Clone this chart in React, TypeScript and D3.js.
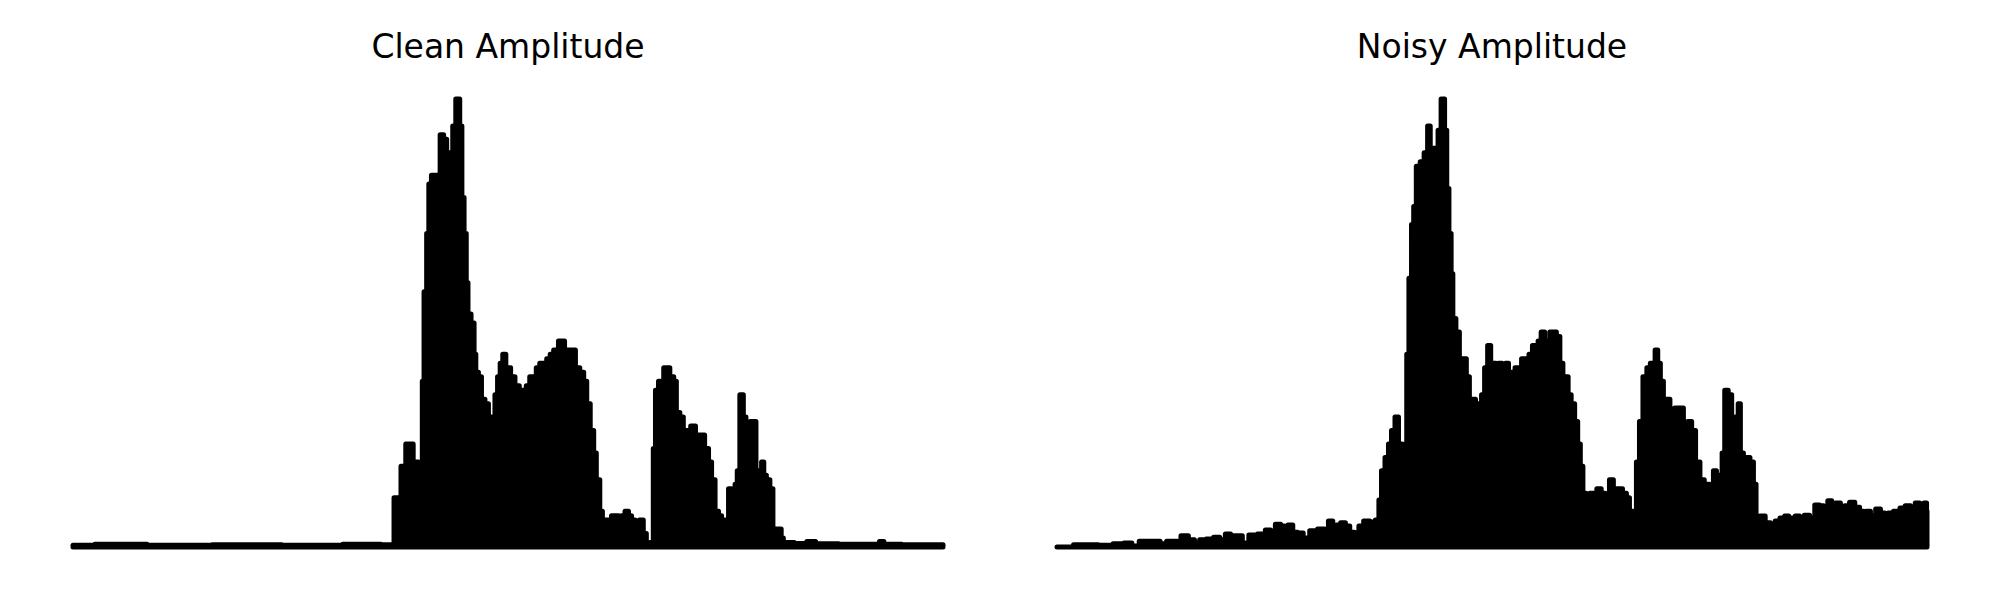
import React from "react";
import * as d3 from "d3";

const titles = ["Clean Amplitude", "Noisy Amplitude"];

const cleanT = [0, 0.05, 0.12, 0.2, 0.28, 0.34, 0.368, 0.37, 0.376, 0.378, 0.387, 0.395, 0.399, 0.401, 0.402, 0.405, 0.408, 0.41, 0.414, 0.42, 0.424, 0.428, 0.431, 0.436, 0.437, 0.443, 0.446, 0.448, 0.451, 0.453, 0.455, 0.46, 0.462, 0.464, 0.468, 0.471, 0.476, 0.479, 0.483, 0.487, 0.489, 0.493, 0.495, 0.5, 0.506, 0.51, 0.516, 0.52, 0.522, 0.528, 0.531, 0.534, 0.539, 0.543, 0.546, 0.551, 0.554, 0.562, 0.568, 0.575, 0.58, 0.585, 0.589, 0.592, 0.597, 0.6, 0.603, 0.608, 0.609, 0.614, 0.617, 0.621, 0.625, 0.629, 0.632, 0.637, 0.64, 0.644, 0.648, 0.654, 0.657, 0.661, 0.666, 0.668, 0.671, 0.675, 0.683, 0.689, 0.692, 0.695, 0.7, 0.703, 0.707, 0.713, 0.718, 0.723, 0.729, 0.732, 0.736, 0.74, 0.744, 0.747, 0.752, 0.755, 0.759, 0.763, 0.764, 0.769, 0.772, 0.775, 0.777, 0.78, 0.784, 0.786, 0.79, 0.793, 0.795, 0.799, 0.803, 0.806, 0.81, 0.813, 0.815, 0.818, 0.84, 0.847, 0.86, 0.9, 0.925, 0.929, 0.935, 0.97, 1];
const cleanA = [0.004, 0.006, 0.004, 0.005, 0.004, 0.006, 0.005, 0.11, 0.11, 0.18, 0.23, 0.19, 0.15, 0.19, 0.37, 0.57, 0.7, 0.81, 0.83, 0.83, 0.92, 0.91, 0.88, 0.88, 0.94, 1.0, 0.94, 0.78, 0.7, 0.59, 0.52, 0.5, 0.43, 0.39, 0.38, 0.33, 0.32, 0.29, 0.29, 0.34, 0.38, 0.41, 0.43, 0.4, 0.38, 0.36, 0.35, 0.34, 0.36, 0.38, 0.37, 0.4, 0.41, 0.41, 0.42, 0.43, 0.44, 0.46, 0.44, 0.44, 0.4, 0.39, 0.37, 0.32, 0.26, 0.21, 0.15, 0.08, 0.04, 0.06, 0.05, 0.07, 0.07, 0.05, 0.07, 0.08, 0.07, 0.06, 0.05, 0.06, 0.03, 0.005, 0.01, 0.22, 0.35, 0.37, 0.4, 0.38, 0.37, 0.3, 0.29, 0.25, 0.26, 0.27, 0.25, 0.25, 0.22, 0.19, 0.15, 0.08, 0.07, 0.06, 0.05, 0.13, 0.09, 0.14, 0.17, 0.34, 0.29, 0.25, 0.27, 0.28, 0.28, 0.17, 0.15, 0.19, 0.16, 0.15, 0.13, 0.04, 0.04, 0.04, 0.02, 0.01, 0.008, 0.012, 0.007, 0.006, 0.006, 0.012, 0.006, 0.005, 0.005];

const noisyT = [0, 0.038, 0.057, 0.072, 0.082, 0.09, 0.099, 0.115, 0.122, 0.13, 0.138, 0.147, 0.155, 0.161, 0.167, 0.176, 0.184, 0.19, 0.197, 0.202, 0.21, 0.216, 0.225, 0.236, 0.243, 0.248, 0.254, 0.26, 0.263, 0.268, 0.274, 0.279, 0.287, 0.294, 0.305, 0.31, 0.314, 0.32, 0.323, 0.329, 0.334, 0.339, 0.345, 0.349, 0.356, 0.363, 0.369, 0.371, 0.375, 0.379, 0.383, 0.386, 0.391, 0.394, 0.399, 0.401, 0.403, 0.406, 0.409, 0.411, 0.415, 0.42, 0.424, 0.428, 0.43, 0.432, 0.437, 0.439, 0.444, 0.447, 0.449, 0.452, 0.454, 0.456, 0.461, 0.464, 0.469, 0.472, 0.476, 0.479, 0.483, 0.486, 0.49, 0.493, 0.497, 0.5, 0.503, 0.506, 0.509, 0.514, 0.517, 0.521, 0.524, 0.529, 0.532, 0.536, 0.54, 0.545, 0.548, 0.552, 0.554, 0.559, 0.562, 0.564, 0.569, 0.572, 0.576, 0.58, 0.583, 0.586, 0.589, 0.593, 0.597, 0.6, 0.603, 0.606, 0.61, 0.615, 0.618, 0.623, 0.628, 0.632, 0.638, 0.641, 0.647, 0.653, 0.656, 0.66, 0.664, 0.668, 0.671, 0.676, 0.68, 0.684, 0.686, 0.689, 0.692, 0.695, 0.699, 0.702, 0.707, 0.713, 0.718, 0.722, 0.728, 0.731, 0.737, 0.741, 0.747, 0.753, 0.756, 0.76, 0.763, 0.766, 0.769, 0.774, 0.777, 0.782, 0.784, 0.787, 0.791, 0.794, 0.799, 0.802, 0.805, 0.811, 0.817, 0.823, 0.828, 0.834, 0.839, 0.843, 0.846, 0.851, 0.856, 0.862, 0.868, 0.874, 0.879, 0.883, 0.889, 0.892, 0.898, 0.903, 0.908, 0.914, 0.92, 0.925, 0.929, 0.932, 0.938, 0.944, 0.949, 0.954, 0.957, 0.966, 0.972, 0.978, 0.984, 0.989, 0.994, 0.999, 1.0];
const noisyA = [0.0, 0.005, 0.004, 0.007, 0.009, 0.002, 0.013, 0.013, 0.007, 0.013, 0.013, 0.025, 0.016, 0.009, 0.016, 0.018, 0.022, 0.016, 0.029, 0.025, 0.025, 0.009, 0.027, 0.029, 0.038, 0.031, 0.051, 0.047, 0.027, 0.049, 0.033, 0.031, 0.02, 0.036, 0.04, 0.031, 0.058, 0.036, 0.049, 0.054, 0.047, 0.033, 0.031, 0.047, 0.058, 0.056, 0.06, 0.105, 0.17, 0.2, 0.23, 0.26, 0.29, 0.23, 0.22, 0.23, 0.43, 0.6, 0.72, 0.76, 0.85, 0.86, 0.88, 0.94, 0.88, 0.89, 0.88, 0.93, 1.0, 0.93, 0.8, 0.7, 0.61, 0.51, 0.48, 0.42, 0.42, 0.38, 0.33, 0.33, 0.28, 0.32, 0.34, 0.4, 0.45, 0.41, 0.41, 0.4, 0.41, 0.4, 0.41, 0.36, 0.39, 0.4, 0.37, 0.42, 0.42, 0.43, 0.45, 0.43, 0.46, 0.48, 0.44, 0.46, 0.48, 0.48, 0.47, 0.41, 0.37, 0.38, 0.34, 0.32, 0.28, 0.23, 0.18, 0.12, 0.09, 0.12, 0.12, 0.13, 0.12, 0.1, 0.15, 0.13, 0.13, 0.12, 0.11, 0.08, 0.08, 0.19, 0.28, 0.38, 0.4, 0.41, 0.35, 0.44, 0.41, 0.37, 0.3, 0.33, 0.28, 0.31, 0.31, 0.27, 0.28, 0.26, 0.19, 0.15, 0.14, 0.11, 0.17, 0.16, 0.15, 0.21, 0.35, 0.34, 0.27, 0.29, 0.32, 0.21, 0.18, 0.2, 0.19, 0.14, 0.065, 0.069, 0.054, 0.042, 0.058, 0.065, 0.069, 0.058, 0.065, 0.069, 0.058, 0.071, 0.065, 0.094, 0.092, 0.087, 0.103, 0.092, 0.098, 0.087, 0.092, 0.1, 0.089, 0.08, 0.069, 0.08, 0.069, 0.085, 0.076, 0.069, 0.076, 0.08, 0.087, 0.092, 0.087, 0.098, 0.092, 0.098, 0.08];

const panels = [
  { title: titles[0], t: cleanT, a: cleanA, range: [73, 943] as [number, number] },
  { title: titles[1], t: noisyT, a: noisyA, range: [1057, 1927] as [number, number] },
];

export default function App() {
  const y = d3.scaleLinear().domain([0, 1]).range([547, 99]);
  return (
    <svg
      width={2000}
      height={600}
      style={{ position: "absolute", left: 0, top: 0, background: "#fff" }}
    >
      <rect x={0} y={0} width={2000} height={600} fill="#fff" />
      {panels.map((p, i) => {
        const x = d3.scaleLinear().domain([0, 1]).range(p.range);
        const pts = p.t.map((t, k) => [t, p.a[k]] as [number, number]);
        const area = d3
          .area<[number, number]>()
          .curve(d3.curveStep)
          .x((d) => x(d[0]))
          .y0(y(0))
          .y1((d) => y(d[1]));
        return (
          <g key={i}>
            <path
              d={area(pts) || ""}
              fill="#000"
              stroke="#000"
              strokeWidth={5}
              strokeLinejoin="round"
              strokeLinecap="round"
            />
            <text
              x={(p.range[0] + p.range[1]) / 2}
              y={58}
              textAnchor="middle"
              fontFamily="DejaVu Sans"
              fontSize={33}
              fill="#000"
            >
              {p.title}
            </text>
          </g>
        );
      })}
    </svg>
  );
}
